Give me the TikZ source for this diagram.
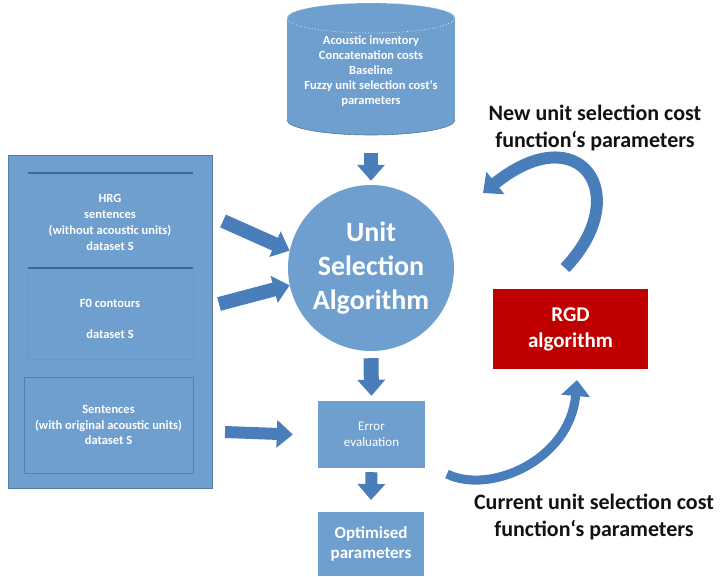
\documentclass[tikz,border=0pt]{standalone}
\usepackage{fontspec}
\setmainfont{Carlito}
\usepackage{tikz}
\usetikzlibrary{arrows.meta,positioning}

\begin{document}
\begin{tikzpicture}[x=1pt,y=-1pt,
  boxText/.style={text=white,align=center,inner sep=0pt},
  blockArrow/.style={draw=arrowBlue,line width=#1,-{Triangle[width=27pt,length=16pt]}},
  blockArrow/.default=13pt,
  curveArrow/.style={draw=arrowBlue,line width=#1,-{Triangle[width=28pt,length=16pt]}},
  labelText/.style={text=labelBlack,align=center,inner sep=0pt,font=\fontsize{22}{27}\selectfont\bfseries}]
\definecolor{boxBlue}{RGB}{111,159,206}
\definecolor{arrowBlue}{RGB}{74,126,187}
\definecolor{lineBlue}{RGB}{62,104,150}
\definecolor{rgdRed}{RGB}{192,0,0}
\definecolor{labelBlack}{RGB}{18,18,18}
\useasboundingbox (0,0) rectangle (720,576);
% input data panel
\node[fill=boxBlue,draw=boxBlue!80!black,line width=0.6pt,minimum width=204pt,minimum height=333pt,anchor=north west] (dataPanel) at (8,155) {};
\draw[boxBlue!96!black,line width=0.4pt] (28,268) rectangle (193,359);
\draw[lineBlue,line width=1.6pt] (28,173) -- (193,173);
\draw[lineBlue,line width=1.6pt] (28,268) -- (193,268);
\node[boxText,font=\fontsize{12.5}{16}\selectfont\bfseries] (hrgText) at (110,222) {HRG\\sentences\\(without acoustic units)\\dataset S};
\node[boxText,font=\fontsize{12.5}{16}\selectfont\bfseries] (fzeroText) at (110,318.5) {F0 contours\\[15pt]dataset S};
\node[draw=lineBlue!85,line width=1pt,minimum width=169pt,minimum height=96pt,boxText,font=\fontsize{12.5}{15.5}\selectfont\bfseries] (refBox) at (108.5,425) {Sentences\\(with original acoustic units)\\dataset S};
% acoustic inventory
\fill[boxBlue] (287,18) rectangle (455,120);
\fill[boxBlue] (371,120) ellipse [x radius=84,y radius=15];
\fill[boxBlue] (371,18) ellipse [x radius=84,y radius=15];
\draw[boxBlue!75!black,line width=0.6pt] (287,120) arc[start angle=180,end angle=0,x radius=84,y radius=15];
\draw[white!75!boxBlue,line width=0.8pt,dotted] (371,18) ellipse [x radius=84,y radius=15];
\node[boxText,minimum width=168pt,minimum height=132pt,font=\fontsize{12.5}{15.2}\selectfont\bfseries] (inventory) at (371,71) {Acoustic inventory\\Concatenation costs\\Baseline\\Fuzzy unit selection cost‘s\\parameters};
% main chain
\node[circle,fill=boxBlue,minimum size=166pt,boxText,font=\fontsize{28}{34}\selectfont\bfseries] (unitSel) at (371,268) {Unit\\Selection\\Algorithm};
\node[fill=boxBlue,minimum width=107pt,minimum height=67pt,boxText,font=\fontsize{13}{16}\selectfont] (errEval) at (371.5,434.5) {Error\\evaluation};
\node[fill=boxBlue,minimum width=106pt,minimum height=64pt,anchor=north,boxText,font=\fontsize{17}{20}\selectfont\bfseries] (optParams) at (371,512) {Optimised\\parameters};
\node[fill=rgdRed,minimum width=155pt,minimum height=80pt,boxText,font=\fontsize{21}{26}\selectfont\bfseries] (rgd) at (570.5,329) {RGD\\algorithm};
% labels
\node[labelText] (newLabel) at (595,128) {New unit selection cost\\function‘s parameters};
\node[labelText] (curLabel) at (594,517) {Current unit selection cost\\function‘s parameters};
% arrows
\coordinate (hrgOut) at (223,221);
\coordinate (fzeroOut) at (219,304);
\coordinate (refOut) at (225,432);
\draw[blockArrow=14pt] ([yshift=-16pt]inventory.south) -- ([yshift=4pt]unitSel.north);
\draw[blockArrow=14pt] (hrgOut) -- (unitSel.168);
\draw[blockArrow=14pt] (fzeroOut) -- (unitSel.192);
\draw[blockArrow=12pt] (refOut) -- ([xshift=-25pt]errEval.west);
\draw[blockArrow=15pt] ([yshift=-7pt]unitSel.south) -- ([yshift=5pt]errEval.north);
\draw[blockArrow=12pt] ([yshift=-4pt]errEval.south) -- ([yshift=12pt]optParams.north);
\coordinate (rgdOut) at (565,268);
\coordinate (newIn) at (483,193);
\coordinate (errOut) at (447,474);
\coordinate (rgdIn) at (577,380);
\draw[curveArrow=12pt] (rgdOut) .. controls (635,195) and (580,115) .. (newIn);
\draw[curveArrow=9pt] (errOut) .. controls (490,495) and (570,460) .. (rgdIn);
\end{tikzpicture}
\end{document}
